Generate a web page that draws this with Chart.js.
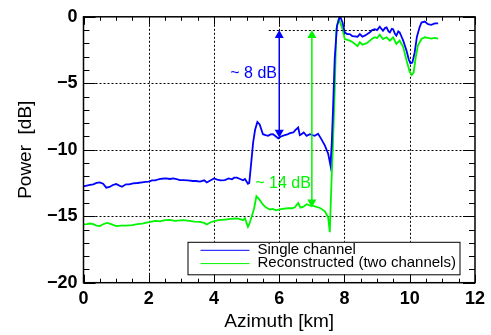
<!DOCTYPE html>
<html>
<head>
<meta charset="utf-8">
<script src="https://cdn.jsdelivr.net/npm/chart.js@4/dist/chart.umd.min.js"></script>
<style>
  html, body { margin: 0; padding: 0; background: #fff; }
  #wrap { width: 491px; height: 335px; position: relative; }
</style>
</head>
<body>
<div id="wrap"><canvas id="c"></canvas></div>
<script>
// ---- Data ----
const singleLabel = 'Single channel';
const reconLabel = 'Reconstructed (two channels)';

const blueX = [0.0,0.1,0.2,0.3,0.4,0.5,0.6,0.7,0.8,0.9,1.0,1.1,1.18,1.3,1.4,1.52,1.65,1.8,1.9,2.0,2.1,2.2,2.3,2.4,2.53,2.65,2.75,2.85,2.95,3.05,3.2,3.35,3.45,3.57,3.7,3.78,3.9,4.0,4.1,4.2,4.33,4.45,4.55,4.62,4.7,4.8,4.89,4.95,5.04,5.08,5.14,5.2,5.26,5.33,5.4,5.5,5.58,5.66,5.73,5.81,5.9,5.97,6.05,6.17,6.25,6.33,6.43,6.5,6.58,6.63,6.68,6.75,6.84,6.94,7.02,7.09,7.19,7.29,7.4,7.5,7.57,7.61,7.65,7.7,7.77,7.86,7.94,8.01,8.08,8.16,8.24,8.32,8.4,8.47,8.55,8.62,8.7,8.78,8.85,8.93,9.0,9.08,9.18,9.24,9.29,9.35,9.39,9.45,9.49,9.55,9.59,9.65,9.69,9.75,9.8,9.9,9.97,10.02,10.08,10.15,10.22,10.3,10.36,10.46,10.56,10.66,10.77,10.87];
const blueY = [-12.75,-12.7,-12.65,-12.6,-12.5,-12.45,-12.55,-12.85,-12.8,-12.65,-12.58,-12.7,-12.78,-12.6,-12.6,-12.53,-12.5,-12.45,-12.42,-12.4,-12.3,-12.3,-12.22,-12.18,-12.16,-12.2,-12.15,-12.2,-12.28,-12.28,-12.3,-12.35,-12.35,-12.4,-12.3,-12.46,-12.3,-12.16,-12.25,-12.3,-12.28,-12.15,-12.22,-12.1,-12.1,-12.2,-12.3,-12.2,-12.56,-12.5,-11.0,-9.44,-8.5,-7.91,-8.09,-8.83,-8.9,-8.95,-8.85,-8.83,-9.0,-9.15,-9.0,-8.9,-8.85,-8.75,-8.7,-8.5,-8.33,-8.9,-8.83,-8.7,-8.95,-8.83,-8.9,-8.95,-8.8,-9.2,-9.69,-10.3,-11.17,-9.5,-6.85,-3.15,-0.68,0.06,-0.43,-1.17,-1.3,-1.3,-1.45,-1.47,-1.5,-1.3,-1.5,-1.42,-1.3,-1.17,-1.0,-0.93,-1.0,-0.75,-1.05,-0.85,-0.8,-1.1,-1.17,-0.9,-0.93,-1.3,-1.42,-1.1,-1.17,-1.5,-1.79,-2.53,-3.2,-3.5,-3.45,-2.7,-1.5,-0.8,-0.43,-0.36,-0.56,-0.6,-0.5,-0.5];

const greenX = [0.0,0.1,0.2,0.3,0.4,0.5,0.6,0.72,0.85,1.0,1.15,1.3,1.5,1.65,1.8,2.0,2.2,2.35,2.5,2.65,2.8,3.05,3.25,3.4,3.57,3.7,3.78,3.9,4.0,4.15,4.33,4.5,4.7,4.8,4.89,4.95,5.04,5.08,5.16,5.23,5.3,5.4,5.5,5.6,5.71,5.8,5.9,5.97,6.1,6.27,6.4,6.48,6.58,6.65,6.73,6.84,6.94,7.02,7.09,7.25,7.4,7.5,7.55,7.6,7.65,7.7,7.75,7.82,7.88,7.94,8.01,8.16,8.24,8.32,8.4,8.47,8.55,8.62,8.7,8.78,8.85,8.93,9.0,9.08,9.18,9.29,9.39,9.49,9.59,9.69,9.8,9.9,10.0,10.06,10.12,10.18,10.25,10.36,10.46,10.56,10.66,10.77,10.87];
const greenY = [-15.62,-15.6,-15.55,-15.6,-15.7,-15.74,-15.6,-15.5,-15.6,-15.74,-15.7,-15.7,-15.67,-15.6,-15.55,-15.44,-15.35,-15.38,-15.3,-15.28,-15.35,-15.3,-15.35,-15.4,-15.42,-15.5,-15.62,-15.45,-15.37,-15.3,-15.25,-15.2,-15.17,-15.22,-15.3,-15.15,-15.8,-15.6,-15.0,-14.4,-13.5,-13.77,-14.13,-14.35,-14.5,-14.45,-14.55,-14.5,-14.45,-14.4,-14.4,-14.33,-14.0,-14.35,-14.3,-14.1,-14.2,-14.2,-14.26,-14.38,-14.63,-15.1,-16.2,-12.5,-9.3,-5.6,-0.93,-0.19,-0.5,-0.93,-1.67,-1.79,-1.9,-2.04,-2.2,-1.91,-2.1,-2.04,-1.95,-1.79,-1.65,-1.54,-1.6,-1.35,-1.67,-1.54,-1.79,-1.54,-2.04,-1.79,-2.28,-3.27,-4.14,-4.38,-4.2,-3.1,-2.16,-1.67,-1.54,-1.59,-1.64,-1.59,-1.64];

// axis ticks
const xTickValues = [0, 2, 4, 6, 8, 10, 12];
const xTickLabels = ['0', '2', '4', '6', '8', '10', '12'];
const yTickValues = [0, -5, -10, -15, -20];
const yTickLabels = ['0', '\u22125', '\u221210', '\u221215', '\u221220'];
const xTitle = 'Azimuth [km]';
const yTitle = 'Power  [dB]';

// annotations
const arrowX = [6, 7];
const arrowTop = [-1, -1];
const arrowBottom = [-9.1, -14.35];
const arrowText = ['~ 8 dB', '~ 14 dB'];
const arrowTextX = [5.93, 6.97];
const arrowTextY = [-4.25, -12.53];
const refLineY = -1;
const refLineX = [5.68, 8.95];

// ---- styling ----
const BLUE = '#0000ff';
const GREEN = '#00f500';
const FONT = "'Liberation Sans', Arial, Helvetica, sans-serif";

const decoPlugin = {
  id: 'deco',
  beforeDatasetsDraw(chart) {
    const { ctx, chartArea: a, scales: { x, y } } = chart;
    ctx.save();
    ctx.strokeStyle = '#000';
    ctx.lineWidth = 1;
    ctx.setLineDash([2, 2]);
    xTickValues.slice(1, -1).forEach(v => {
      const px = Math.round(x.getPixelForValue(v)) + 0.5;
      ctx.beginPath(); ctx.moveTo(px, a.top); ctx.lineTo(px, a.bottom); ctx.stroke();
    });
    yTickValues.slice(1, -1).forEach(v => {
      const py = Math.round(y.getPixelForValue(v)) + 0.5;
      ctx.beginPath(); ctx.moveTo(a.left, py); ctx.lineTo(a.right, py); ctx.stroke();
    });
    ctx.restore();
  },
  afterDatasetsDraw(chart) {
    const { ctx, chartArea: a, scales: { x, y } } = chart;
    ctx.save();
    // reference dashed line
    ctx.strokeStyle = '#000';
    ctx.lineWidth = 1;
    ctx.setLineDash([2, 2]);
    const ry = Math.round(y.getPixelForValue(refLineY)) + 0.5;
    ctx.beginPath();
    ctx.moveTo(x.getPixelForValue(refLineX[0]), ry);
    ctx.lineTo(x.getPixelForValue(refLineX[1]), ry);
    ctx.stroke();
    ctx.setLineDash([]);

    // arrows
    const colors = [BLUE, GREEN];
    arrowX.forEach((v, i) => {
      const px = x.getPixelForValue(v);
      const t = y.getPixelForValue(arrowTop[i]);
      const b = y.getPixelForValue(arrowBottom[i]);
      ctx.strokeStyle = colors[i];
      ctx.fillStyle = colors[i];
      ctx.lineWidth = 1.5;
      ctx.beginPath(); ctx.moveTo(px, t + 4); ctx.lineTo(px, b - 4); ctx.stroke();
      const hl = 8, hw = 4.5;
      ctx.beginPath(); ctx.moveTo(px, t); ctx.lineTo(px - hw, t + hl); ctx.lineTo(px + hw, t + hl); ctx.closePath(); ctx.fill();
      ctx.beginPath(); ctx.moveTo(px, b); ctx.lineTo(px - hw, b - hl); ctx.lineTo(px + hw, b - hl); ctx.closePath(); ctx.fill();
      ctx.font = '16px ' + FONT;
      ctx.textAlign = 'right';
      ctx.textBaseline = 'middle';
      ctx.fillText(arrowText[i], x.getPixelForValue(arrowTextX[i]), y.getPixelForValue(arrowTextY[i]));
    });

    // frame
    ctx.strokeStyle = '#000';
    ctx.lineWidth = 1.5;
    ctx.strokeRect(a.left, a.top, a.right - a.left, a.bottom - a.top);

    // ticks (inward, mirrored)
    ctx.lineWidth = 1;
    for (let k = 0; k <= 24; k++) {
      const v = k * 0.5;
      const len = (k % 4 === 0) ? 8 : 4;
      const px = Math.round(x.getPixelForValue(v)) + 0.5;
      ctx.beginPath();
      ctx.moveTo(px, a.bottom); ctx.lineTo(px, a.bottom - len);
      ctx.moveTo(px, a.top); ctx.lineTo(px, a.top + len);
      ctx.stroke();
    }
    for (let k = 0; k <= 20; k++) {
      const v = -k;
      const len = (k % 5 === 0) ? 12 : 6;
      const py = Math.round(y.getPixelForValue(v)) + 0.5;
      ctx.beginPath();
      ctx.moveTo(a.left, py); ctx.lineTo(a.left + len, py);
      ctx.moveTo(a.right, py); ctx.lineTo(a.right - len, py);
      ctx.stroke();
    }

    // legend box (inside plot, lower right)
    const bx = a.left + 104, by = a.top + 225, bw = 272, bh = 32.5;
    ctx.fillStyle = '#fff';
    ctx.fillRect(bx, by, bw, bh);
    ctx.strokeStyle = '#000';
    ctx.lineWidth = 1;
    ctx.strokeRect(bx + 0.5, by + 0.5, bw, bh);
    const items = chart.data.datasets;
    ctx.font = '15px ' + FONT;
    ctx.textAlign = 'left';
    ctx.textBaseline = 'middle';
    items.forEach((ds, i) => {
      const ly = by + 8.5 + i * 13.3;
      ctx.strokeStyle = ds.borderColor;
      ctx.lineWidth = 1;
      ctx.beginPath(); ctx.moveTo(bx + 13, ly); ctx.lineTo(bx + 62, ly); ctx.stroke();
      ctx.fillStyle = '#000';
      ctx.fillText(ds.label, bx + 70, ly - 0.5);
    });
    ctx.restore();
  }
};

new Chart(document.getElementById('c'), {
  type: 'line',
  data: {
    datasets: [
      { label: singleLabel, data: blueX.map((v, i) => ({ x: v, y: blueY[i] })), borderColor: BLUE, borderWidth: 1.8, pointRadius: 0, tension: 0 },
      { label: reconLabel, data: greenX.map((v, i) => ({ x: v, y: greenY[i] })), borderColor: GREEN, borderWidth: 1.8, pointRadius: 0, tension: 0 }
    ]
  },
  options: {
    responsive: true,
    maintainAspectRatio: false,
    animation: false,
    events: [],
    layout: { padding: { top: 12.5, right: 15.5, bottom: 0, left: 0 } },
    plugins: { legend: { display: false }, tooltip: { enabled: false } },
    scales: {
      x: {
        type: 'linear', min: 0, max: 12,
        afterBuildTicks: s => { s.ticks = xTickValues.map(v => ({ value: v })); },
        afterFit: s => { s.height = 52.3; },
        grid: { display: false, drawTicks: false },
        border: { display: false },
        ticks: {
          padding: 6, color: '#000', maxRotation: 0,
          font: { family: FONT, size: 18, weight: 'bold' },
          callback: v => { const i = xTickValues.indexOf(v); return i >= 0 ? xTickLabels[i] : ''; }
        },
        title: { display: true, text: xTitle, color: '#000', font: { family: FONT, size: 19 }, padding: { top: 0, bottom: 1.5 } }
      },
      y: {
        type: 'linear', min: -20, max: 0,
        afterBuildTicks: s => { s.ticks = yTickValues.map(v => ({ value: v })); },
        afterFit: s => { s.width = 83.5; },
        grid: { display: false, drawTicks: false },
        border: { display: false },
        ticks: {
          padding: 6, color: '#000',
          font: { family: FONT, size: 18, weight: 'bold' },
          callback: v => { const i = yTickValues.indexOf(v); return i >= 0 ? yTickLabels[i] : ''; }
        },
        title: { display: true, text: yTitle, color: '#000', font: { family: FONT, size: 19 }, padding: { top: 14, bottom: 0 } }
      }
    }
  },
  plugins: [decoPlugin]
});
</script>
</body>
</html>
